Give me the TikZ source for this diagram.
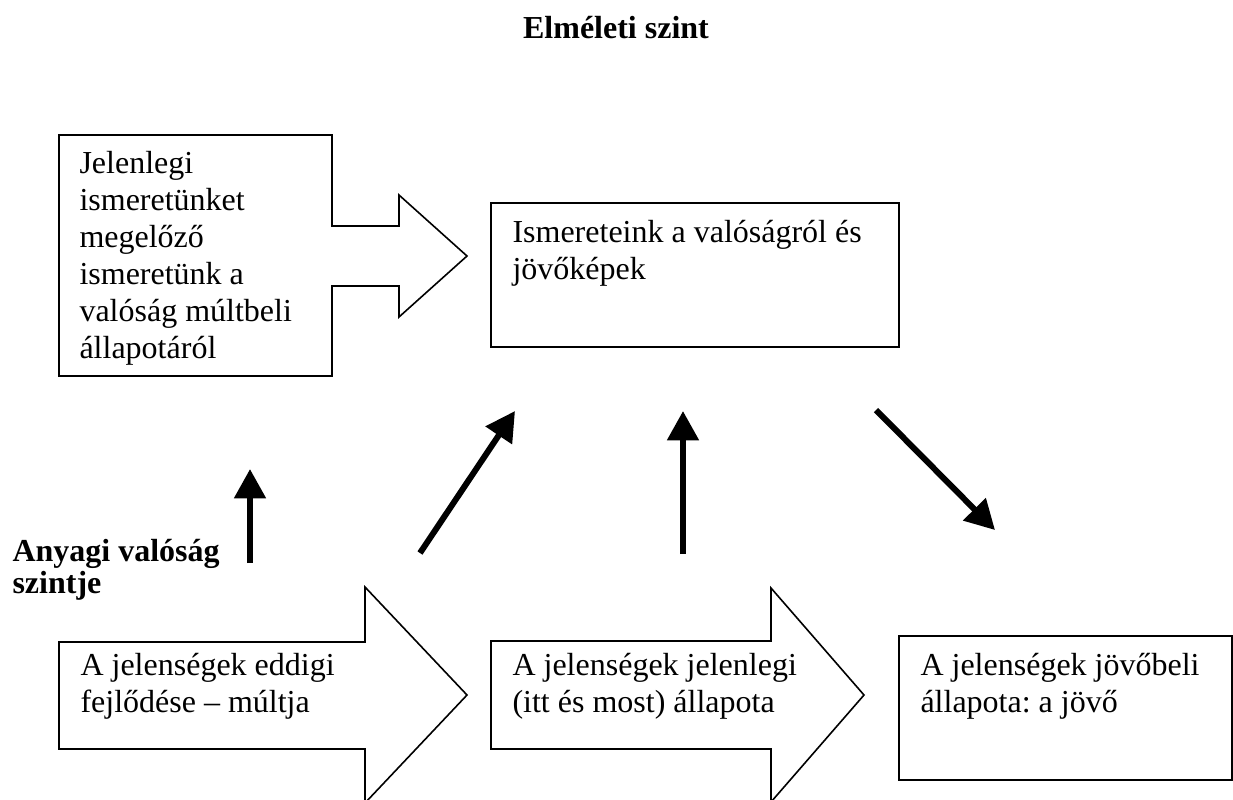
\documentclass[tikz,border=0pt]{standalone}
\usepackage{fontspec}
\setmainfont{Liberation Serif}
\usetikzlibrary{arrows.meta}

\tikzset{
	txt/.style={anchor=base west, inner sep=0pt, align=flush left, text width=#1,
		font=\fontsize{12pt}{13.9pt}\selectfont\frenchspacing},
	heading/.style={inner sep=0pt, align=flush left,
		font=\bfseries\fontsize{12pt}{11.9pt}\selectfont},
	frame/.style={draw=black, line width=0.6pt},
	fat/.style={line width=2.25pt, -{Triangle[length=11pt,width=11.5pt]}},
}

\begin{document}
\begin{tikzpicture}[x=0.375pt,y=-0.375pt]
	
	\clip (0,0) rectangle (1233,799);
	
	% block arrows and boxes
	\draw[frame] (59,135) -- (332,135) -- (332,226) -- (399,226) -- (399,195)
		-- (467,256) -- (399,317) -- (399,286) -- (332,286) -- (332,376) -- (59,376) -- cycle;
	\draw[frame] (491,203) rectangle (899,347);
	\draw[frame] (59,642) -- (365,642) -- (365,587) -- (467,695) -- (365,803)
		-- (365,749) -- (59,749) -- cycle;
	\draw[frame] (491,641) -- (771,641) -- (771,588) -- (864,695) -- (771,802)
		-- (771,749) -- (491,749) -- cycle;
	\draw[frame] (899,636) rectangle (1232,780);
	
	% texts
	\node[heading, anchor=base] (elmelet) at (616,38) {Elméleti szint};
	\node[heading, anchor=base west] (anyag) at (12,593) {Anyagi valóság\\szintje};
	
	\node[txt=260pt] (multismeret) at (79,173) {Jelenlegi\\ismeretünket\\megelőző\\ismeretünk a\\valóság múltbeli\\állapotáról};
	\node[txt=300pt] (ismeret) at (512,242) {Ismereteink a valóságról és\\jövőképek};
	\node[txt=260pt] (mult) at (80,675) {A jelenségek eddigi\\fejlődése -- múltja};
	\node[txt=260pt] (jelen) at (512,675) {A jelenségek jelenlegi\\(itt és most) állapota};
	\node[txt=260pt] (jovo) at (920,675) {A jelenségek jövőbeli\\állapota: a jövő};
	
	% ends of the thick arrows
	\coordinate (a1) at (250,563);
	\coordinate (a2) at (250,469);
	\coordinate (b1) at (420,553);
	\coordinate (b2) at (515,411);
	\coordinate (c1) at (683,554);
	\coordinate (c2) at (683,411);
	\coordinate (d1) at (876,410);
	\coordinate (d2) at (995,530);
	
	\path[fat] (a1) edge (a2);
	\path[fat] (b1) edge (b2);
	\path[fat] (c1) edge (c2);
	\path[fat] (d1) edge (d2);
	
\end{tikzpicture}
\end{document}
